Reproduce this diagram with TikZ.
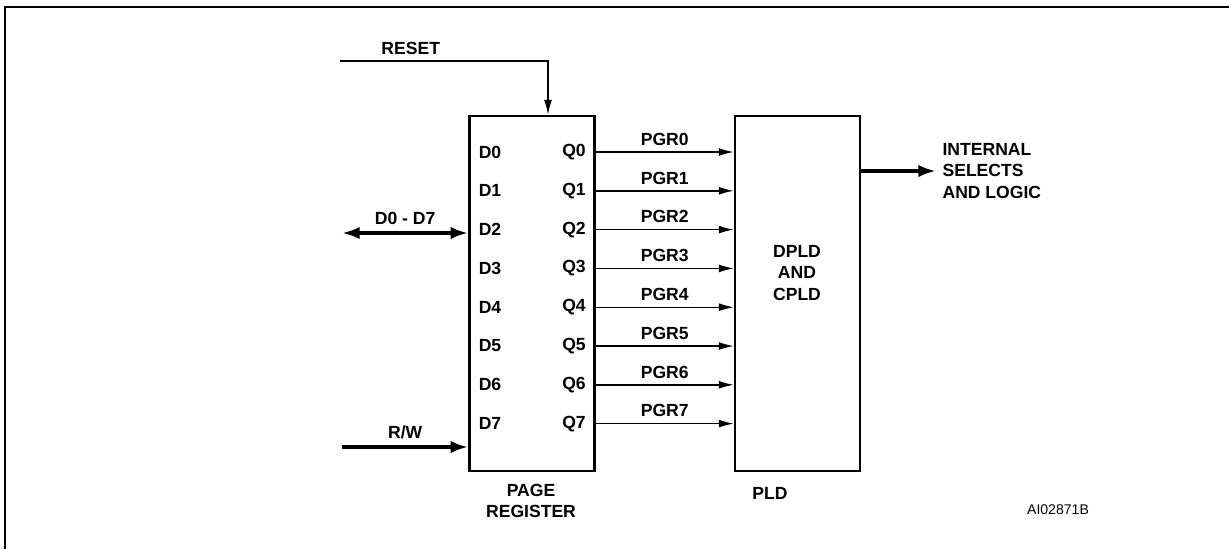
\documentclass[tikz,border=0pt]{standalone}
\usepackage{fontspec}
\setmainfont{Liberation Sans}
\usetikzlibrary{arrows.meta,calc}

\begin{document}
\begin{tikzpicture}
  [x=0.02cm, y=-0.02cm, line width=0.8pt,
   font=\bfseries\fontsize{10}{12}\selectfont,
   box/.style={draw, line width=1.4pt, minimum width=2.5cm, minimum height=7.1cm},
   wire/.style={-{Latex[length=8.5pt,width=4.5pt]}},
   bus/.style={line width=2.5pt, -{Latex[length=10pt,width=7pt]}},
   busboth/.style={line width=2.5pt, {Latex[length=10pt,width=7pt]}-{Latex[length=10pt,width=7pt]}}]
  \useasboundingbox (0,0) rectangle (1229,549);
  \draw [line width=1.4pt] (5,549) -- (5,7) -- (1229,7);

  \node [box] (preg) at (532,293.5) {};
  \node [box] (pld) at (797.5,293.5) {};
  \node [align=center] (pldtxt) at (797,273) {DPLD\\AND\\CPLD};
  \node (pldname) at (770,493) {PLD};
  \node [align=center] (pregname) at (531,501) {PAGE\\REGISTER};
  \node [font=\mdseries\fontsize{8}{10}\selectfont] (figid) at (1058,510) {AI02871B};

  \foreach \i [evaluate=\i as \y using {152+38.8*\i}] in {0,...,7} {
    \node (d\i) at (490,\y) {D\i};
    \node (q\i) at (574,\y) {Q\i};
    \draw [wire] (preg.east |- q\i) -- node [above] {PGR\i} (pld.west |- q\i);
  }

  \coordinate (rstend) at (340,61);
  \draw [wire] (rstend) -| node [pos=0.17, above] {RESET} ($(preg.north)+(16,0)$);

  \coordinate (busend) at (342,233);
  \draw [busboth] (busend) -- node [above] {D0 - D7} (busend -| preg.west);

  \coordinate (rwend) at (342,447);
  \draw [bus] (rwend) -- node [above] {R/W} (rwend -| preg.west);

  \node [anchor=west, align=left] (intl) at (936,171) {INTERNAL\\SELECTS\\AND LOGIC};
  \draw [bus] (pld.east |- intl.west) -- (intl.west);
\end{tikzpicture}
\end{document}
